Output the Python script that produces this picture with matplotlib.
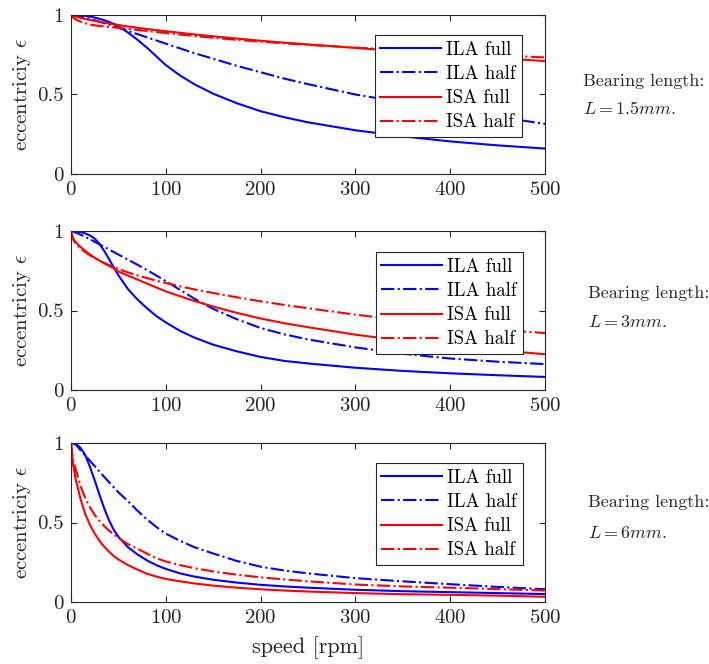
import matplotlib
matplotlib.use("Agg")
import matplotlib.pyplot as plt

plt.rcParams["font.family"] = ["cmr10", "DejaVu Serif"]
plt.rcParams["mathtext.fontset"] = "cm"
plt.rcParams["axes.formatter.use_mathtext"] = True

# Shaft speed samples [rpm]
speed = [0, 2, 5, 10, 15, 20, 25, 30, 35, 40, 45, 50, 60, 70, 80, 90, 100,
         115, 130, 150, 175, 200, 225, 250, 300, 350, 400, 450, 500]

# Bearing length L = 1.5 mm
ila_full_15 = [1.0, 1.0, 1.0, 0.998, 0.995, 0.99, 0.984, 0.976, 0.967, 0.957,
               0.944, 0.93, 0.89, 0.845, 0.795, 0.74, 0.685, 0.62, 0.565, 0.505,
               0.445, 0.395, 0.357, 0.325, 0.275, 0.237, 0.205, 0.18, 0.16]
ila_half_15 = [1.0, 0.999, 0.997, 0.99, 0.983, 0.975, 0.967, 0.958, 0.949, 0.94,
               0.93, 0.92, 0.90, 0.88, 0.86, 0.84, 0.82, 0.79, 0.76, 0.725,
               0.68, 0.64, 0.60, 0.565, 0.50, 0.45, 0.405, 0.36, 0.315]
isa_full_15 = [1.0, 0.995, 0.99, 0.982, 0.975, 0.969, 0.963, 0.957, 0.952, 0.947,
               0.942, 0.937, 0.928, 0.92, 0.912, 0.905, 0.898, 0.888, 0.878, 0.866,
               0.852, 0.838, 0.826, 0.815, 0.793, 0.771, 0.75, 0.73, 0.71]
isa_half_15 = [1.0, 0.985, 0.972, 0.958, 0.948, 0.94, 0.935, 0.931, 0.928, 0.925,
               0.922, 0.919, 0.913, 0.906, 0.90, 0.893, 0.887, 0.877, 0.868, 0.857,
               0.844, 0.832, 0.822, 0.812, 0.795, 0.779, 0.764, 0.748, 0.733]

# Bearing length L = 3 mm
ila_full_3 = [1.0, 1.0, 0.998, 0.993, 0.985, 0.972, 0.952, 0.92, 0.875, 0.825,
              0.772, 0.722, 0.635, 0.57, 0.515, 0.465, 0.425, 0.372, 0.33, 0.285,
              0.243, 0.208, 0.183, 0.167, 0.14, 0.12, 0.105, 0.093, 0.082]
ila_half_3 = [1.0, 0.997, 0.99, 0.977, 0.963, 0.948, 0.932, 0.916, 0.90, 0.884,
              0.868, 0.852, 0.82, 0.788, 0.755, 0.72, 0.685, 0.63, 0.575, 0.51,
              0.445, 0.39, 0.35, 0.318, 0.268, 0.228, 0.198, 0.178, 0.163]
isa_full_3 = [1.0, 0.955, 0.93, 0.90, 0.875, 0.852, 0.832, 0.814, 0.797, 0.781,
              0.766, 0.745, 0.72, 0.695, 0.67, 0.645, 0.62, 0.59, 0.56, 0.525,
              0.485, 0.45, 0.42, 0.395, 0.348, 0.31, 0.278, 0.25, 0.225]
isa_half_3 = [1.0, 0.95, 0.92, 0.89, 0.867, 0.847, 0.83, 0.814, 0.80, 0.786,
              0.773, 0.761, 0.74, 0.721, 0.704, 0.688, 0.673, 0.652, 0.633, 0.61,
              0.583, 0.558, 0.535, 0.514, 0.474, 0.438, 0.406, 0.38, 0.358]

# Bearing length L = 6 mm
ila_full_6 = [1.0, 1.0, 0.995, 0.97, 0.925, 0.85, 0.765, 0.675, 0.59, 0.515,
              0.455, 0.41, 0.345, 0.30, 0.262, 0.232, 0.208, 0.18, 0.16, 0.14,
              0.122, 0.108, 0.098, 0.09, 0.077, 0.068, 0.062, 0.056, 0.05]
ila_half_6 = [1.0, 0.998, 0.99, 0.955, 0.922, 0.888, 0.855, 0.82, 0.787, 0.755,
              0.722, 0.69, 0.635, 0.575, 0.52, 0.472, 0.43, 0.385, 0.345, 0.305,
              0.258, 0.222, 0.198, 0.18, 0.15, 0.13, 0.112, 0.095, 0.08]
isa_full_6 = [1.0, 0.87, 0.77, 0.65, 0.555, 0.485, 0.43, 0.385, 0.348, 0.317,
              0.29, 0.268, 0.232, 0.204, 0.178, 0.16, 0.145, 0.13, 0.117, 0.103,
              0.09, 0.08, 0.072, 0.066, 0.056, 0.049, 0.045, 0.04, 0.033]
isa_half_6 = [1.0, 0.90, 0.835, 0.73, 0.655, 0.595, 0.548, 0.51, 0.478, 0.45,
              0.425, 0.403, 0.365, 0.335, 0.305, 0.275, 0.255, 0.232, 0.213, 0.192,
              0.172, 0.155, 0.142, 0.13, 0.11, 0.098, 0.09, 0.081, 0.072]

series_labels = ["ILA full", "ILA half", "ISA full", "ISA half"]
series_colors = ["#0000ff", "#0000ff", "#ff0000", "#ff0000"]
series_styles = ["-", "-.", "-", "-."]

panels = [
    ([ila_full_15, ila_half_15, isa_full_15, isa_half_15], r"$L = 1.5mm.$"),
    ([ila_full_3, ila_half_3, isa_full_3, isa_half_3], r"$L = 3mm.$"),
    ([ila_full_6, ila_half_6, isa_full_6, isa_half_6], r"$L = 6mm.$"),
]

x_ticks = [0, 100, 200, 300, 400, 500]
y_ticks = [0, 0.5, 1]
y_tick_labels = ["0", "0.5", "1"]

W, H = 709, 664
fig = plt.figure(figsize=(W / 100, H / 100), dpi=100)

# axes boxes in pixels: (left, top, right, bottom)
boxes = [(71, 15, 545, 174), (71, 231, 545, 390), (71, 443, 545, 602)]
legend_anchor = [(0.641, 0.874), (0.643, 0.868), (0.643, 0.874)]
note_y = [(81, 108), (293, 322), (502, 533)]
note_x = [583, 588, 588]

axis_grey = "#262626"

for i, ((curves, note), box) in enumerate(zip(panels, boxes)):
    l, t, r, b = box
    ax = fig.add_axes([l / W, 1 - b / H, (r - l) / W, (b - t) / H])
    for vals, lab, col, ls in zip(curves, series_labels, series_colors, series_styles):
        ax.plot(speed, vals, color=col, linestyle=ls, linewidth=1.5, label=lab)
    ax.set_xlim(0, 500)
    ax.set_ylim(0, 1)
    ax.set_xticks(x_ticks)
    ax.set_yticks(y_ticks)
    ax.set_yticklabels(y_tick_labels)
    ax.tick_params(direction="in", length=4, width=0.8, colors=axis_grey,
                   labelcolor="#262626", labelsize=15, top=True, right=True, pad=5)
    for sp in ax.spines.values():
        sp.set_color(axis_grey)
        sp.set_linewidth(0.8)
    ax.set_ylabel(r"eccentriciy $\epsilon$", fontsize=15, color="#262626")
    ax.yaxis.set_label_coords(-0.080, 0.5)
    leg = ax.legend(loc="upper left", bbox_to_anchor=legend_anchor[i], fontsize=13.5,
                    handlelength=3.25, handletextpad=0.27, borderpad=0.3,
                    labelspacing=0.34, borderaxespad=0, fancybox=False,
                    framealpha=1, edgecolor=axis_grey)
    leg.get_frame().set_linewidth(0.8)
    if i == 2:
        ax.set_xlabel("speed [rpm]", fontsize=16, color="#262626")
        ax.xaxis.set_label_coords(0.5, -0.214)
    fig.text(note_x[i] / W, 1 - note_y[i][0] / H, "Bearing length:", fontsize=13,
             va="center", ha="left", color="#262626")
    fig.text(note_x[i] / W, 1 - note_y[i][1] / H, note, fontsize=13,
             va="center", ha="left", color="#262626")

fig.savefig("out.png", dpi=100)
